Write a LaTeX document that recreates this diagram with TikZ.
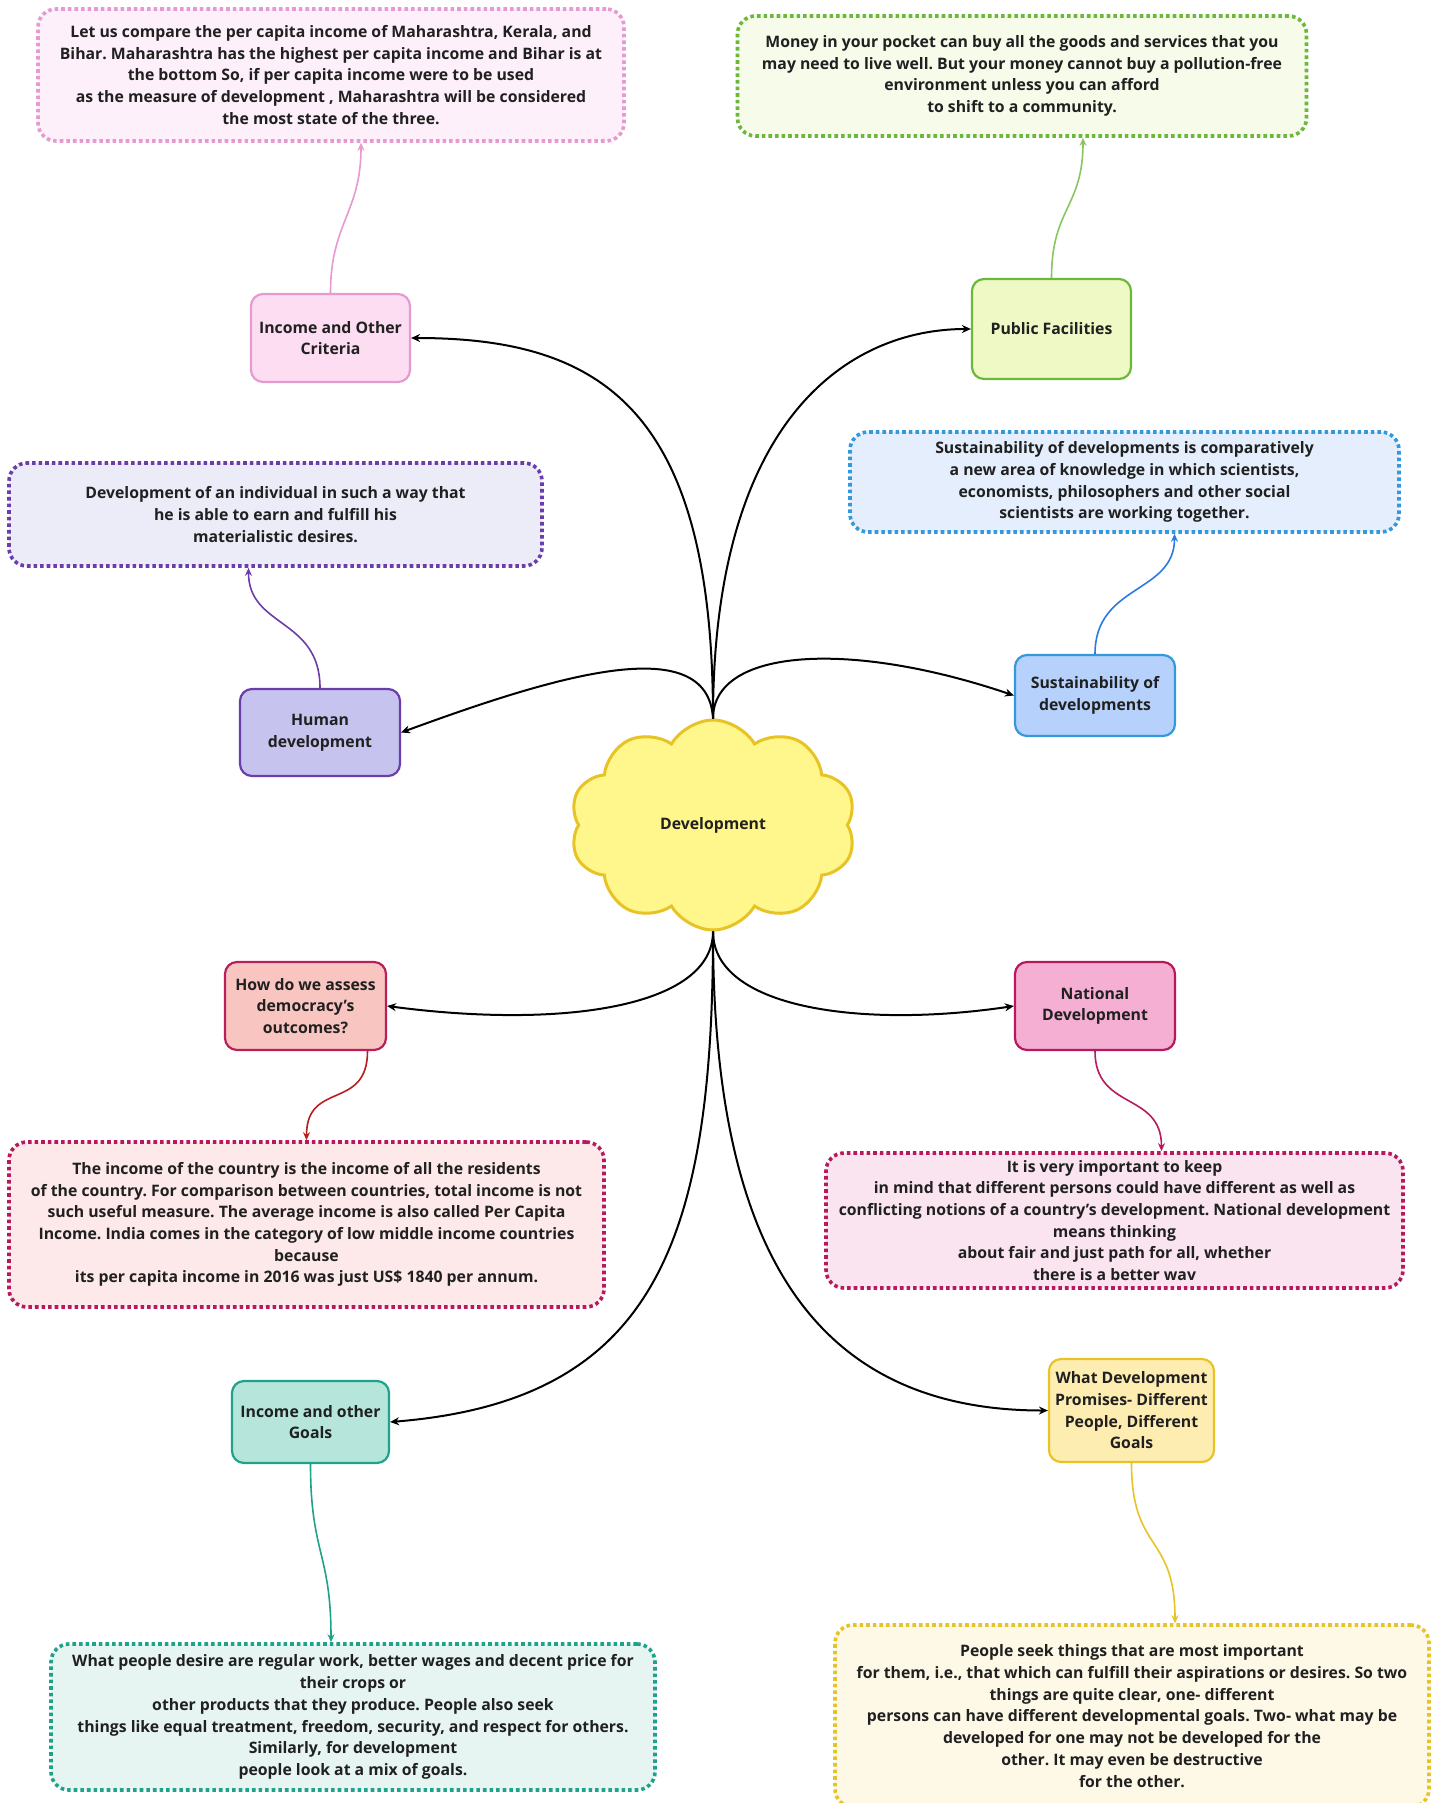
\documentclass[tikz,border=0pt]{standalone}
\usepackage{fontspec}
\setmainfont{Open Sans}
\usetikzlibrary{shapes.symbols,arrows.meta}
\frenchspacing

\definecolor{critfill}{HTML}{FCDDF1}
\definecolor{critline}{HTML}{E69ACF}
\definecolor{critnote}{HTML}{FDF0FA}
\definecolor{pubfill}{HTML}{EEF9C6}
\definecolor{publine}{HTML}{6CB83A}
\definecolor{pubnote}{HTML}{F6FBEA}
\definecolor{susfill}{HTML}{B6D1FB}
\definecolor{susline}{HTML}{3598DB}
\definecolor{susnote}{HTML}{E4EEFC}
\definecolor{humfill}{HTML}{C6C4EE}
\definecolor{humline}{HTML}{6A3DAA}
\definecolor{humnote}{HTML}{ECEBF8}
\definecolor{devfill}{HTML}{FFF68C}
\definecolor{devline}{HTML}{E8C326}
\definecolor{demofill}{HTML}{F9C5C0}
\definecolor{demoline}{HTML}{B8205A}
\definecolor{demonote}{HTML}{FDE9E9}
\definecolor{demoarrow}{HTML}{B81E1E}
\definecolor{natfill}{HTML}{F4AFD3}
\definecolor{natline}{HTML}{B8195C}
\definecolor{natnote}{HTML}{F9E4EF}
\definecolor{goalfill}{HTML}{B5E5DB}
\definecolor{goalline}{HTML}{1EA38A}
\definecolor{goalnote}{HTML}{E7F5F2}
\definecolor{whatfill}{HTML}{FEEDB1}
\definecolor{whatline}{HTML}{E8C326}
\definecolor{whatnote}{HTML}{FEF9E7}
\definecolor{ink}{HTML}{202020}

\tikzset{
  topic/.style={draw, rounded corners=12pt, line width=2.2pt, align=center,
    inner sep=2pt, text=ink, font=\bfseries\fontsize{15.8}{21.7}\selectfont},
  note/.style={draw, rounded corners=18pt, line width=3.6pt,
    dash pattern=on 3.6pt off 3pt, align=center, inner sep=2pt, text=ink,
    font=\bfseries\fontsize{15.8}{21.7}\selectfont},
  link/.style={line width=2pt, -{Stealth[length=9pt,width=8pt]}},
  sublink/.style={line width=1.6pt, -{Stealth[length=8pt,width=7pt]}},
}

\begin{document}
\begin{tikzpicture}[x=1pt,y=-1pt]
  \useasboundingbox[fill=white] (0,0) rectangle (1435,1803);

  % centre
  \node[cloud, cloud puffs=10, cloud puff arc=120, aspect=1.35, draw=devline, fill=devfill,
    line width=3pt, minimum width=286pt, minimum height=210pt, text=ink,
    font=\bfseries\fontsize{15.8}{21.7}\selectfont] (dev) at (713,825) {Development};

  % topics
  \node[topic, draw=critline, fill=critfill, minimum width=159pt, minimum height=88pt]
    (crit) at (330.5,338) {Income and Other\\Criteria};
  \node[topic, draw=publine, fill=pubfill, minimum width=159pt, minimum height=100pt]
    (pub) at (1051.5,329) {Public Facilities};
  \node[topic, draw=humline, fill=humfill, minimum width=160pt, minimum height=87pt]
    (hum) at (320,732.5) {Human\\development};
  \node[topic, draw=susline, fill=susfill, minimum width=160pt, minimum height=81pt]
    (sus) at (1095,695.5) {Sustainability of\\developments};
  \node[topic, draw=demoline, fill=demofill, minimum width=161pt, minimum height=88pt]
    (demo) at (305.5,1006) {How do we assess\\democracy’s\\outcomes?};
  \node[topic, draw=natline, fill=natfill, minimum width=160pt, minimum height=88pt]
    (nat) at (1095,1006) {National\\Development};
  \node[topic, draw=goalline, fill=goalfill, minimum width=157pt, minimum height=82pt]
    (goals) at (310.5,1422) {Income and other\\Goals};
  \node[topic, draw=whatline, fill=whatfill, minimum width=165pt, minimum height=103pt]
    (what) at (1131.5,1410.5) {What Development\\Promises- Different\\People, Different\\Goals};

  % notes
  \node[note, draw=critline, fill=critnote, minimum width=586pt, minimum height=132pt]
    (critn) at (331,75) {Let us compare the per capita income of Maharashtra, Kerala, and\\
    Bihar. Maharashtra has the highest per capita income and Bihar is at\\
    the bottom So, if per capita income were to be used\\
    as the measure of development , Maharashtra will be considered\\
    the most state of the three.};
  \node[note, draw=publine, fill=pubnote, minimum width=569pt, minimum height=120pt]
    (pubn) at (1022,76) {Money in your pocket can buy all the goods and services that you\\
    may need to live well. But your money cannot buy a pollution-free\\
    environment unless you can afford\\
    to shift to a community.};
  \node[note, draw=susline, fill=susnote, minimum width=549pt, minimum height=100pt]
    (susn) at (1124.5,482) {Sustainability of developments is comparatively\\
    a new area of knowledge in which scientists,\\
    economists, philosophers and other social\\
    scientists are working together.};
  \node[note, draw=humline, fill=humnote, minimum width=533pt, minimum height=103pt]
    (humn) at (275.5,514.5) {Development of an individual in such a way that\\
    he is able to earn and fulfill his\\
    materialistic desires.};
  \node[note, draw=natline, fill=demonote, minimum width=595pt, minimum height=165pt]
    (demon) at (306.5,1224.5) {The income of the country is the income of all the residents\\
    of the country. For comparison between countries, total income is not\\
    such useful measure. The average income is also called Per Capita\\
    Income. India comes in the category of low middle income countries\\
    because\\
    its per capita income in 2016 was just US\$ 1840 per annum.};
  \node[note, draw=natline, fill=natnote, minimum width=577pt, minimum height=135pt]
    (natn) at (1114.5,1220.5) {It is very important to keep\\
    in mind that different persons could have different as well as\\
    conflicting notions of a country’s development. National development\\
    means thinking\\
    about fair and just path for all, whether\\
    there is a better wav};
  \node[note, draw=goalline, fill=goalnote, minimum width=604pt, minimum height=146pt]
    (goalsn) at (353,1717) {What people desire are regular work, better wages and decent price for\\
    their crops or\\
    other products that they produce. People also seek\\
    things like equal treatment, freedom, security, and respect for others.\\
    Similarly, for development\\
    people look at a mix of goals.};
  \node[note, draw=whatline, fill=whatnote, minimum width=594pt, minimum height=182pt]
    (whatn) at (1132,1716) {People seek things that are most important\\
    for them, i.e., that which can fulfill their aspirations or desires. So two\\
    things are quite clear, one- different\\
    persons can have different developmental goals. Two- what may be\\
    developed for one may not be developed for the\\
    other. It may even be destructive\\
    for the other.};

  % from the centre
  \draw[link] (dev.north) .. controls +(0,-310) and +(190,0) .. (crit.east);
  \draw[link] (dev.north) .. controls +(0,-300) and +(-122,0) .. (pub.west);
  \draw[link] (dev.north) .. controls +(-5,-90) and +(150,-55) .. (hum.east);
  \draw[link] (dev.north) .. controls +(0,-70) and +(-165,-56) .. (sus.west);
  \draw[link] (dev.south) .. controls +(0,76) and +(174,23) .. (demo.east);
  \draw[link] (dev.south) .. controls +(0,76) and +(-155,23) .. (nat.west);
  \draw[link] (dev.south) .. controls +(0,316) and +(261,-21) .. (goals.east);
  \draw[link] (dev.south) .. controls +(0,296) and +(-249,0) .. (what.west);

  % to the notes
  \draw[sublink, critline] (crit.north) .. controls +(0,-70) and +(0,70) .. ([xshift=30pt]critn.south);
  \draw[sublink, publine!80] (pub.north) .. controls +(0,-70) and +(0,70) .. ([xshift=61pt]pubn.south);
  \draw[sublink, humline] (hum.north) .. controls +(0,-70) and +(0,60) .. ([xshift=-27pt]humn.south);
  \draw[sublink, susline!80!blue] (sus.north) .. controls +(0,-70) and +(0,60) .. ([xshift=50pt]susn.south);
  \draw[sublink, demoarrow] ([xshift=62pt]demo.south) .. controls +(0,60) and +(0,-60) .. (demon.north);
  \draw[sublink, natline] (nat.south) .. controls +(0,60) and +(0,-60) .. ([xshift=47pt]natn.north);
  \draw[sublink, goalline] (goals.south) .. controls +(0,90) and +(0,-90) .. ([xshift=-22pt]goalsn.north);
  \draw[sublink, whatline] (what.south) .. controls +(0,90) and +(0,-90) .. ([xshift=43pt]whatn.north);
\end{tikzpicture}
\end{document}
